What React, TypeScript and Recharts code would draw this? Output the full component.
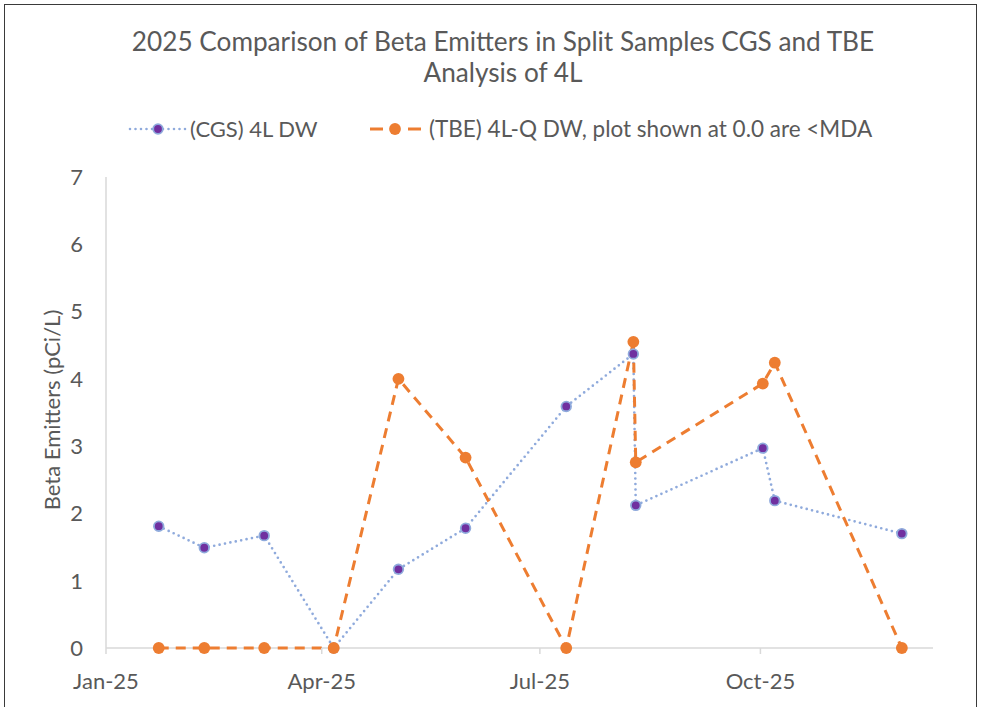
import React from 'react';
import { LineChart, Line, XAxis, YAxis, Legend, Label, CartesianGrid } from 'recharts';

const FONT = 'Lato, "Open Sans", sans-serif';
const TEXT = '#595959';
const AXIS = '#D9D9D9';
const CGS_LINE = '#8FAADC';
const CGS_MARK = '#7030A0';
const TBE = '#ED7D31';

// sample dates (both labs split the same samples)
const sampleDates = [
  '2025-01-23', '2025-02-11', '2025-03-08', '2025-04-06', '2025-05-03', '2025-05-31',
  '2025-07-12', '2025-08-09', '2025-08-10', '2025-10-02', '2025-10-07', '2025-11-29',
];
const cgsValues = [1.81, 1.49, 1.67, 0, 1.17, 1.78, 3.59, 4.37, 2.12, 2.97, 2.19, 1.7];
const tbeValues = [0, 0, 0, 0, 4.0, 2.83, 0, 4.55, 2.76, 3.93, 4.24, 0];

const tickDates = ['2025-01-01', '2025-04-01', '2025-07-01', '2025-10-01'];
const axisStart = '2025-01-01';
const axisEnd = '2025-12-12';
const yTicks = [0, 1, 2, 3, 4, 5, 6, 7];
const monthNames = ['Jan', 'Feb', 'Mar', 'Apr', 'May', 'Jun', 'Jul', 'Aug', 'Sep', 'Oct', 'Nov', 'Dec'];

const toTime = (s: string) => {
  const [y, m, d] = s.split('-').map(Number);
  return Date.UTC(y, m - 1, d);
};

const formatTick = (t: number) => {
  const d = new Date(t);
  return `${monthNames[d.getUTCMonth()]}-${String(d.getUTCFullYear()).slice(2)}`;
};

const CgsDot = (props: any) => {
  const { cx, cy, index } = props;
  if (cx == null || cy == null) return null;
  return <circle key={`c-${index}`} cx={cx} cy={cy} r={4.8} fill={CGS_MARK} stroke={CGS_LINE} strokeWidth={1.8} />;
};

const TbeDot = (props: any) => {
  const { cx, cy, index } = props;
  if (cx == null || cy == null) return null;
  return <circle key={`t-${index}`} cx={cx} cy={cy} r={5.9} fill={TBE} />;
};

const renderLegend = () => (
  <svg width={1006} height={40} style={{ display: 'block' }}>
    <g>
      <line x1={130} y1={19} x2={186} y2={19} stroke={CGS_LINE} strokeWidth={2.6} strokeDasharray="0 5.5" strokeLinecap="round" />
      <circle cx={158} cy={19} r={4.8} fill={CGS_MARK} stroke={CGS_LINE} strokeWidth={1.8} />
      <text x={190} y={27} fontSize={22} fill={TEXT} fontFamily={FONT}>(CGS) 4L DW</text>
    </g>
    <g>
      <line x1={370} y1={19} x2={383} y2={19} stroke={TBE} strokeWidth={3} />
      <line x1={408} y1={19} x2={421} y2={19} stroke={TBE} strokeWidth={3} />
      <circle cx={395} cy={19} r={5.9} fill={TBE} />
      <text x={429} y={27} fontSize={22.5} fill={TEXT} fontFamily={FONT}>(TBE) 4L-Q DW, plot shown at 0.0 are &lt;MDA</text>
    </g>
  </svg>
);

export default function App() {
  const data = sampleDates.map((d, i) => ({
    date: toTime(d),
    cgs: cgsValues[i],
    tbe: tbeValues[i],
  }));

  return (
    <div
      style={{
        position: 'fixed',
        left: 0,
        top: 0,
        width: 981,
        height: 707,
        background: '#fff',
        overflow: 'hidden',
        fontFamily: FONT,
      }}
    >
      <div
        style={{
          position: 'absolute',
          left: 4,
          top: 4,
          width: 971,
          height: 760,
          borderTop: '1.5px solid #3a3a3a',
          borderLeft: '1.5px solid #3a3a3a',
          borderRight: '1.5px solid #3a3a3a',
        }}
      />
      <div
        style={{
          position: 'absolute',
          left: 0,
          top: 26,
          width: 1006,
          textAlign: 'center',
          fontSize: 26.2,
          lineHeight: '31px',
          color: TEXT,
        }}
      >
        2025 Comparison of Beta Emitters in Split Samples CGS and TBE
        <br />
        Analysis of 4L
      </div>
      <LineChart
        width={981}
        height={707}
        data={data}
        margin={{ top: 177, right: 48, bottom: 19, left: 46 }}
        style={{ position: 'absolute', left: 0, top: 0 }}
      >
        <CartesianGrid vertical={false} horizontalValues={[0]} stroke={AXIS} strokeWidth={1.5} />
        <XAxis
          dataKey="date"
          type="number"
          scale="linear"
          domain={[toTime(axisStart), toTime(axisEnd)]}
          ticks={tickDates.map(toTime)}
          tickFormatter={formatTick}
          height={40}
          axisLine={false}
          tickLine={{ stroke: AXIS, strokeWidth: 1.5 }}
          tickSize={6}
          tickMargin={19}
          tick={{ fill: TEXT, fontSize: 22, fontFamily: FONT }}
          allowDataOverflow
        />
        <YAxis
          domain={[0, 7]}
          ticks={yTicks}
          width={60}
          stroke={AXIS}
          strokeWidth={1.5}
          tickLine={false}
          tickSize={6}
          tickMargin={17}
          tick={{ fill: TEXT, fontSize: 22, fontFamily: FONT }}
        >
          <Label
            content={() => (
              <text
                x={51}
                y={410}
                transform="rotate(-90 51 410)"
                textAnchor="middle"
                dominantBaseline="central"
                fontSize={22}
                fill={TEXT}
                fontFamily={FONT}
              >
                Beta Emitters (pCi/L)
              </text>
            )}
          />
        </YAxis>
        <Legend
          verticalAlign="middle"
          align="center"
          layout="horizontal"
          content={renderLegend}
          wrapperStyle={{ top: 110, left: 0, width: 1006 }}
        />
        <Line
          dataKey="cgs"
          type="linear"
          stroke={CGS_LINE}
          strokeWidth={2.7}
          strokeDasharray="0 5.5"
          strokeLinecap="round"
          dot={CgsDot}
          activeDot={false}
          isAnimationActive={false}
        />
        <Line
          dataKey="tbe"
          type="linear"
          stroke={TBE}
          strokeWidth={3}
          strokeDasharray="10 7"
          dot={TbeDot}
          activeDot={false}
          isAnimationActive={false}
        />
      </LineChart>
    </div>
  );
}
